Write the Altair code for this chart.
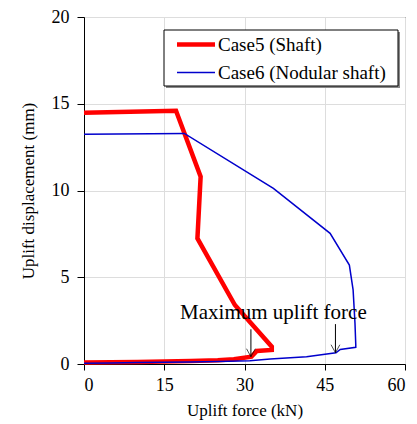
import altair as alt
import pandas as pd

series_names = ["Case5 (Shaft)", "Case6 (Nodular shaft)"]
series_colors = ["#ff0000", "#0000cc"]
series_widths = [4.5, 1.5]

case5_force = [0, 5, 10, 15, 20, 25, 28, 31.3, 32.3, 35.1, 35.1, 28.2, 21.2, 21.8, 17.2, 0]
case5_disp = [0.08, 0.1, 0.12, 0.14, 0.17, 0.22, 0.28, 0.42, 0.75, 0.81, 1.0, 3.4, 7.24, 10.8, 14.6, 14.48]

case6_force = [0, 5, 10, 15, 20, 25, 31, 34.8, 41.6, 47.1, 47.9, 50.8, 50.8, 50.65, 50.3, 49.6, 46, 35.4, 18.75, 0]
case6_disp = [0.04, 0.06, 0.08, 0.1, 0.12, 0.15, 0.19, 0.29, 0.42, 0.65, 0.84, 0.96, 1.1, 2.36, 4.27, 5.7, 7.53, 10.12, 13.29, 13.24]

arrow_x = [31.2, 47.0]
arrow_top = [2.0, 2.3]
arrow_tip = [0.42, 0.65]

note_text = ["Maximum uplift force"]
note_x = [35.4]
note_y = [2.95]

rows = []
for i, (x, y) in enumerate(zip(case5_force, case5_disp)):
    rows.append({"series": series_names[0], "force": x, "disp": y, "order": i})
for i, (x, y) in enumerate(zip(case6_force, case6_disp)):
    rows.append({"series": series_names[1], "force": x, "disp": y, "order": i})
df = pd.DataFrame(rows)

arrows = pd.DataFrame({"x": arrow_x, "top": arrow_top, "tip": arrow_tip})
notes = pd.DataFrame({"text": note_text, "x": note_x, "y": note_y})
one = pd.DataFrame({"k": [0]})

FONT = "Liberation Serif"

xscale = alt.Scale(domain=[0, 60], nice=False)
yscale = alt.Scale(domain=[0, 20], nice=False)

common = dict(grid=True, gridColor="#dddddd", domainColor="black", tickColor="black",
              labelColor="black", titleColor="black", labelFont=FONT, labelFontSize=18,
              titleFont=FONT, titleFontSize=17, titleFontWeight="normal")

xaxis = alt.Axis(values=[0, 15, 30, 45, 60], title="Uplift force (kN)",
                 tickSize=6, labelPadding=6, titlePadding=8, **common)
yaxis = alt.Axis(values=[0, 5, 10, 15, 20], title="Uplift displacement (mm)",
                 tickSize=7, labelPadding=8, titlePadding=14, **common)

lines = alt.Chart(df).mark_line().encode(
    x=alt.X("force:Q", scale=xscale, axis=xaxis),
    y=alt.Y("disp:Q", scale=yscale, axis=yaxis),
    color=alt.Color("series:N", scale=alt.Scale(domain=series_names, range=series_colors), legend=None),
    strokeWidth=alt.StrokeWidth("series:N", scale=alt.Scale(domain=series_names, range=series_widths),
                                legend=None),
    order="order:Q",
)

rules = alt.Chart(arrows).mark_rule(color="black", strokeWidth=1).encode(
    x="x:Q", y="top:Q", y2="tip:Q"
)

heads = alt.Chart(arrows).mark_point(
    shape="M-0.55,-1L0,0L0.55,-1", size=256, filled=False, color="black", strokeWidth=1
).encode(x="x:Q", y="tip:Q")

text = alt.Chart(notes).mark_text(font=FONT, fontSize=21, color="black").encode(
    x="x:Q", y="y:Q", text="text:N"
)

# legend box (pixel layout inside the plot area)
legend_shadow = alt.Chart(one).mark_rect(fill="#888888").encode(
    x=alt.value(82), x2=alt.value(316), y=alt.value(15), y2=alt.value(71)
)
legend_box = alt.Chart(one).mark_rect(fill="white", stroke="black", strokeWidth=1).encode(
    x=alt.value(80), x2=alt.value(314), y=alt.value(13), y2=alt.value(69)
)
legend_layers = [legend_shadow, legend_box]
for i, name in enumerate(series_names):
    yy = 27.5 + 28 * i
    legend_layers.append(
        alt.Chart(one).mark_rule(color=series_colors[i], strokeWidth=series_widths[i]).encode(
            x=alt.value(93), x2=alt.value(131), y=alt.value(yy)
        )
    )
    legend_layers.append(
        alt.Chart(one).mark_text(text=name, font=FONT, fontSize=19, color="black",
                                 align="left", baseline="middle").encode(
            x=alt.value(134), y=alt.value(yy)
        )
    )

chart = alt.layer(lines, rules, heads, text, *legend_layers).properties(
    width=321, height=347,
    autosize=alt.AutoSizeParams(type="none"),
    padding={"left": 84, "top": 17, "right": 12, "bottom": 60},
    background="white",
).configure_view(stroke="black", strokeWidth=1)

chart.save("out.html", embed_options={"renderer": "svg", "actions": False})
